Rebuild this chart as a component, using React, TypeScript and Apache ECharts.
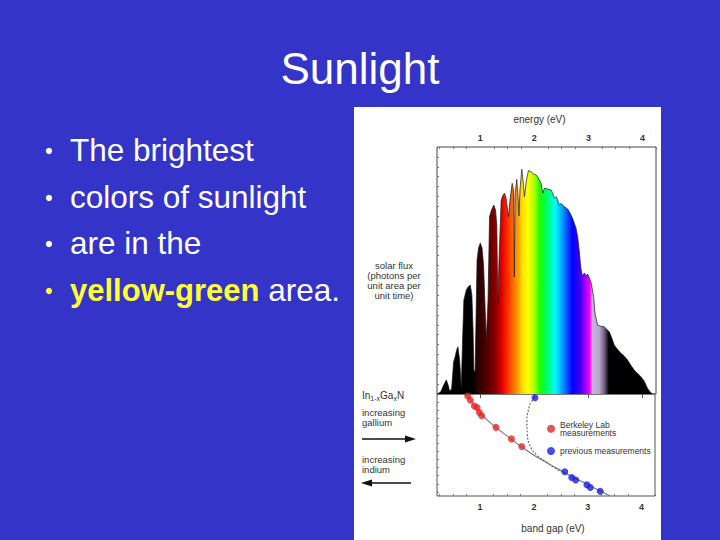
import React, { useEffect, useRef } from "react";
import * as echarts from "echarts";

// ---------- data ----------
const energyEV = [
  0.2, 0.268, 0.323, 0.373, 0.406, 0.434, 0.47, 0.507, 0.535, 0.563, 0.587, 0.618, 0.649, 0.673, 0.697,
  0.742, 0.775, 0.815, 0.845, 0.867, 0.882, 0.904, 0.941, 0.969, 1.0, 1.033, 1.061, 1.111, 1.144, 1.172,
  1.208, 1.251, 1.282, 1.306, 1.325, 1.347, 1.387, 1.421, 1.448, 1.476, 1.498, 1.522, 1.55, 1.59, 1.614,
  1.629, 1.642, 1.675, 1.697, 1.716, 1.734, 1.768, 1.79, 1.817, 1.854, 1.891, 1.941, 1.983, 2.033, 2.076,
  2.125, 2.155, 2.186, 2.247, 2.31, 2.339, 2.371, 2.402, 2.432, 2.463, 2.494, 2.555, 2.616, 2.648, 2.708,
  2.771, 2.801, 2.832, 2.86, 2.887, 2.924, 2.961, 2.985, 3.017, 3.048, 3.096, 3.122, 3.17, 3.22, 3.293,
  3.386, 3.432, 3.478, 3.533, 3.601, 3.662, 3.723, 3.782, 3.847, 3.902, 3.97, 4.031, 4.092, 4.142, 4.185,
];
const solarFlux = [
  0, 0.8, 3.6, 5.7, 3.6, 1.2, 2.0, 13.0, 15.1, 17.8, 19.1, 13.8, 2.8, 21.9, 38.1,
  42.1, 43.3, 44.1, 40.1, 25.9, 9.7, 8.9, 54.3, 59.1, 61.1, 59.1, 52.2, 21.9, 38.1, 71.8,
  74.5, 76.5, 74.5, 68.4, 36.8, 54.3, 78.5, 80.6, 81.3, 79.4, 75.8, 71.8, 78.5, 85.3, 82.6,
  47.4, 80.6, 86.9, 80.6, 72.1, 82.6, 91.0, 86.6, 79.9, 86.6, 90.4, 90.0, 89.1, 88.7, 87.4,
  85.3, 81.3, 83.3, 83.0, 82.6, 81.3, 79.2, 79.9, 78.5, 76.5, 77.2, 75.8, 74.9, 73.8, 71.1,
  67.1, 63.7, 57.6, 51.0, 47.8, 49.0, 47.8, 48.6, 47.0, 45.3, 39.4, 32.7, 27.9, 27.5, 27.2,
  25.2, 22.7, 19.8, 18.2, 16.5, 15.4, 13.8, 11.7, 9.7, 8.5, 7.0, 5.3, 2.3, 0.8, 0,
];

// colour of the light at each energy (eV)
const colorStopEV = [0.2, 0.86, 0.95, 1.1, 1.28, 1.4, 1.5, 1.6, 1.7, 1.78, 1.88, 2.0, 2.1, 2.2, 2.3, 2.38, 2.47, 2.59, 2.7, 2.84, 2.94, 3.03, 3.07, 3.2, 3.3, 3.38, 4.25];
const colorStopHex = ["#000000", "#000000", "#2a0000", "#4a0000", "#8a0000", "#e00000", "#ff2a00", "#ff6a00", "#ffa000", "#ffe000", "#ffff00", "#a8ff00", "#20ff00", "#00ff50", "#00ffa0", "#00ffff", "#00c0ff", "#0060ff", "#0000ff", "#3a00f0", "#a000ff", "#ff00ff", "#c8b0e0", "#b8a8cc", "#6a5a7a", "#000000", "#000000"];

const energyTicks = [1, 2, 3, 4];
const minorEnergyTicks = [0.25, 0.5, 0.75, 1.25, 1.5, 1.75, 2.25, 2.5, 2.75, 3.25, 3.5, 3.75, 4.25];
const fluxTicks = [4, 8, 12, 16, 20, 24, 28, 32, 36, 40, 44, 48, 52, 56, 60, 64, 68, 72, 76, 80, 84, 88, 92, 96];
const fractionTicks = [0.08, 0.16, 0.24, 0.32, 0.4, 0.48, 0.56, 0.64, 0.72, 0.8, 0.88, 0.96];

// band gap (eV) vs gallium fraction x
const berkeleyGap = [0.771, 0.821, 0.895, 0.945, 0.987, 1.03, 1.295, 1.583, 1.775];
const berkeleyX = [0.019, 0.061, 0.117, 0.133, 0.182, 0.214, 0.327, 0.44, 0.515];
const previousGap = [2.02, 2.574, 2.703, 2.777, 2.985, 3.048, 3.232];
const previousX = [0.036, 0.762, 0.818, 0.843, 0.89, 0.916, 0.953];
const fitGap = [0.7, 0.77, 0.85, 0.95, 1.1, 1.3, 1.5, 1.75, 2.0, 2.3, 2.6, 2.9, 3.15, 3.42];
const fitX = [0.0, 0.02, 0.08, 0.15, 0.24, 0.33, 0.41, 0.51, 0.6, 0.69, 0.78, 0.86, 0.93, 1.0];
const oldFitGap = [2.02, 1.95, 1.91, 1.87, 1.878, 1.94, 2.06, 2.22, 2.37, 2.5];
const oldFitX = [0.036, 0.08, 0.133, 0.262, 0.39, 0.52, 0.6, 0.667, 0.72, 0.76];

const slideTitle = "Sunlight";
const bulletLines = ["The brightest", "colors of sunlight", "are in the"];
const lastBulletHighlight = "yellow-green";
const lastBulletRest = " area.";
const fluxLabel = "solar flux\n(photons per\nunit area per\nunit time)";
const galliumLabel = "increasing\ngallium";
const indiumLabel = "increasing\nindium";

const SANS = "'Liberation Sans', Arial, sans-serif";
const INK = "#333333";

export default function App() {
  const ref = useRef<HTMLDivElement>(null);

  useEffect(() => {
    document.body.style.margin = "0";
    const chart = echarts.init(ref.current!, null, { renderer: "svg" });

    const e0 = energyEV[0];
    const e1 = energyEV[energyEV.length - 1];
    const stops = colorStopEV.map((e, i) => ({
      offset: Math.min(1, Math.max(0, (e - e0) / (e1 - e0))),
      color: colorStopHex[i],
    }));
    const rainbow = new echarts.graphic.LinearGradient(0, 0, 1, 0, stops);

    const axisCommon = {
      min: 0.2,
      max: 4.25,
      type: "value" as const,
      splitLine: { show: false },
    };

    const graphics: any[] = [
      { type: "rect", z: -10, silent: true, shape: { x: 354, y: 107, width: 307, height: 440 }, style: { fill: "#ffffff" } },
      {
        type: "text", x: 360, y: 68,
        style: { text: slideTitle, fill: "#ffffff", font: `44px ${SANS}`, textAlign: "center", textVerticalAlign: "middle" },
      },
    ];
    const bulletY = [150, 197, 243, 290];
    bulletY.forEach((y, i) => {
      graphics.push({
        type: "circle", shape: { cx: 49, cy: y + 1, r: 3.1 },
        style: { fill: i === 3 ? "#ffff33" : "#ffffff" },
      });
    });
    bulletLines.forEach((t, i) => {
      graphics.push({
        type: "text", x: 70, y: bulletY[i],
        style: { text: t, fill: "#ffffff", font: `31.5px ${SANS}`, textVerticalAlign: "middle" },
      });
    });
    graphics.push({
      type: "text", x: 70, y: bulletY[3],
      style: {
        text: `{y|${lastBulletHighlight}}{w|${lastBulletRest}}`,
        textVerticalAlign: "middle",
        rich: {
          y: { fill: "#ffff33", font: `bold 31px ${SANS}` },
          w: { fill: "#ffffff", font: `31.5px ${SANS}` },
        },
      },
    });
    graphics.push(
      {
        type: "text", x: 394, y: 280,
        style: { text: fluxLabel, fill: INK, font: `9.5px ${SANS}`, lineHeight: 10, textAlign: "center", textVerticalAlign: "middle" },
      },
      {
        type: "text", x: 362, y: 395,
        style: {
          text: "In{s|1-x}Ga{s|x}N", textVerticalAlign: "middle",
          fill: INK, font: `10px ${SANS}`,
          rich: { s: { fill: INK, font: `7px ${SANS}`, padding: [6, 0, 0, 0] } },
        },
      },
      { type: "text", x: 362, y: 417.5, style: { text: galliumLabel, fill: INK, font: `9.5px ${SANS}`, lineHeight: 10, textVerticalAlign: "middle" } },
      { type: "line", shape: { x1: 362, y1: 439, x2: 408, y2: 439 }, style: { stroke: "#111", lineWidth: 1.6 } },
      { type: "polygon", shape: { points: [[405, 435.5], [416, 439], [405, 442.5]] }, style: { fill: "#111" } },
      { type: "text", x: 362, y: 464.5, style: { text: indiumLabel, fill: INK, font: `9.5px ${SANS}`, lineHeight: 10, textVerticalAlign: "middle" } },
      { type: "line", shape: { x1: 368, y1: 483, x2: 411, y2: 483 }, style: { stroke: "#111", lineWidth: 1.6 } },
      { type: "polygon", shape: { points: [[372, 479.5], [361, 483], [372, 486.5]] }, style: { fill: "#111" } },
    );

    chart.setOption({
      animation: false,
      backgroundColor: "#3434c9",
      textStyle: { fontFamily: SANS },
      graphic: graphics,
      grid: [
        { left: 437, top: 147, width: 219, height: 247, show: true, borderColor: "#444", borderWidth: 1, backgroundColor: "transparent", containLabel: false },
        { left: 437, top: 394, width: 218, height: 102, show: true, borderColor: "#555", borderWidth: 1, backgroundColor: "transparent", containLabel: false },
      ],
      xAxis: [
        {
          ...axisCommon, gridIndex: 0, position: "top",
          name: "energy (eV)", nameLocation: "middle", nameGap: 23,
          nameTextStyle: { color: INK, fontSize: 10, padding: [0, 14, 0, 0] },
          axisLine: { show: false },
          axisTick: { show: true, inside: true, length: 4, customValues: energyTicks, lineStyle: { color: "#555" } },
          axisLabel: { show: true, customValues: energyTicks, color: INK, fontSize: 9, fontWeight: "bold", margin: 5 },
        },
        {
          ...axisCommon, gridIndex: 1, position: "bottom",
          name: "band gap (eV)", nameLocation: "middle", nameGap: 27,
          nameTextStyle: { color: INK, fontSize: 10, padding: [0, 0, 0, 14] },
          axisLine: { show: false },
          axisTick: { show: true, inside: true, length: 4, customValues: energyTicks, lineStyle: { color: "#555" } },
          axisLabel: { show: true, customValues: energyTicks, color: INK, fontSize: 9, fontWeight: "bold", margin: 6 },
        },
        {
          ...axisCommon, gridIndex: 0, position: "top",
          axisLine: { show: false },
          axisTick: { show: true, inside: true, length: 2, customValues: minorEnergyTicks, lineStyle: { color: "#777" } },
          axisLabel: { show: false },
        },
        {
          ...axisCommon, gridIndex: 1, position: "bottom",
          axisLine: { show: false },
          axisTick: { show: true, inside: true, length: 2, customValues: minorEnergyTicks, lineStyle: { color: "#777" } },
          axisLabel: { show: false },
        },
      ],
      yAxis: [
        {
          type: "value", gridIndex: 0, min: 0, max: 100,
          splitLine: { show: false }, axisLine: { show: false },
          axisTick: { show: true, inside: true, length: 2, customValues: fluxTicks, lineStyle: { color: "#777" } },
          axisLabel: { show: false },
        },
        {
          type: "value", gridIndex: 1, min: 0, max: 1, inverse: true,
          splitLine: { show: false }, axisLine: { show: false },
          axisTick: { show: true, inside: true, length: 2, customValues: fractionTicks, lineStyle: { color: "#777" } },
          axisLabel: { show: false },
        },
      ],
      legend: {
        left: 542, top: 415, orient: "vertical", itemWidth: 8, itemHeight: 8, itemGap: 9,
        textStyle: { color: INK, fontSize: 8.5, lineHeight: 8.5, fontFamily: SANS },
        data: [
          { name: "Berkeley Lab\nmeasurements", icon: "circle" },
          { name: "previous measurements", icon: "circle" },
        ],
      },
      series: [
        {
          name: "solar flux", type: "line", xAxisIndex: 0, yAxisIndex: 0,
          data: energyEV.map((e, i) => [e, solarFlux[i]]),
          symbol: "none", z: 3,
          lineStyle: { color: "#1a1a1a", width: 0.7 },
          areaStyle: { color: rainbow, opacity: 1 },
        },
        {
          name: "fit", type: "line", xAxisIndex: 1, yAxisIndex: 1,
          data: fitGap.map((g, i) => [g, fitX[i]]),
          symbol: "none", smooth: 0.4, z: 2,
          lineStyle: { color: "#777", width: 1.1 },
        },
        {
          name: "old fit", type: "line", xAxisIndex: 1, yAxisIndex: 1,
          data: oldFitGap.map((g, i) => [g, oldFitX[i]]),
          symbol: "none", smooth: 0.5, z: 2,
          lineStyle: { color: "#666", width: 1.1, type: [2, 1.5] },
        },
        {
          name: "Berkeley Lab\nmeasurements", type: "scatter", xAxisIndex: 1, yAxisIndex: 1,
          data: berkeleyGap.map((g, i) => [g, berkeleyX[i]]),
          symbol: "circle", symbolSize: 7, z: 4,
          itemStyle: { color: "#e3262b" },
        },
        {
          name: "previous measurements", type: "scatter", xAxisIndex: 1, yAxisIndex: 1,
          data: previousGap.map((g, i) => [g, previousX[i]]),
          symbol: "circle", symbolSize: 7, z: 4,
          itemStyle: { color: "#1b1be0" },
        },
      ],
    });

    return () => chart.dispose();
  }, []);

  return <div ref={ref} style={{ position: "fixed", left: 0, top: 0, width: 720, height: 540 }} />;
}
